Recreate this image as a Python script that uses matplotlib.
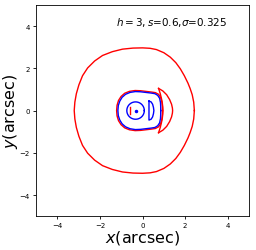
import numpy as np
import matplotlib.pyplot as plt

# upper halves of the curves (x, y), mirrored about y=0 when drawn
caustic_x = [2.43, 2.40, 2.33, 2.23, 2.13, 1.96, 1.77, 1.56, 1.30, 1.00, 0.65, 0.35, 0.0,
             -0.45, -0.94, -1.42, -1.88, -2.25, -2.58, -2.82, -2.99, -3.11, -3.18, -3.21]
caustic_y = [0.0, 0.40, 0.75, 1.05, 1.30, 1.65, 1.98, 2.27, 2.53, 2.74, 2.89, 2.95, 2.97,
             2.96, 2.91, 2.79, 2.61, 2.35, 2.02, 1.65, 1.22, 0.80, 0.40, 0.0]

crit_x = [0.93, 0.93, 0.91, 0.85, 0.75, 0.60, 0.40, 0.15, -0.10, -0.35, -0.62, -0.84, -1.01, -1.13, -1.20, -1.22]
crit_y = [0.0, 0.20, 0.40, 0.62, 0.77, 0.85, 0.88, 0.91, 0.94, 0.95, 0.91, 0.82, 0.67, 0.48, 0.25, 0.0]

img_x = [0.85, 0.85, 0.84, 0.80, 0.71, 0.58, 0.40, 0.15, -0.10, -0.34, -0.59, -0.80, -0.96, -1.07, -1.14, -1.16]
img_y = [0.0, 0.19, 0.38, 0.58, 0.72, 0.80, 0.83, 0.86, 0.89, 0.90, 0.86, 0.77, 0.63, 0.45, 0.24, 0.0]

cres_out_x = [0.75, 0.95, 1.13, 1.27, 1.36, 1.40, 1.41]
cres_out_y = [1.05, 0.93, 0.75, 0.52, 0.30, 0.12, 0.0]
cres_in_x = [0.75, 0.83, 0.89, 0.93, 0.95, 0.96]
cres_in_y = [1.05, 0.80, 0.55, 0.32, 0.14, 0.0]

d_x = [0.30, 0.40, 0.47, 0.51, 0.53]
d_y = [0.45, 0.41, 0.30, 0.15, 0.0]

circ_c, circ_r = -0.33, 0.41
mark_x, mark_y = -0.58, [-0.17, 0.17]


def closed(x, y):
    x = np.array(x)
    y = np.array(y)
    return np.r_[x, x[::-1][1:]], np.r_[y, -y[::-1][1:]]


fig = plt.figure(figsize=(2.56, 2.51), dpi=100)
ax = fig.add_axes([0.141, 0.135, 0.832, 0.841])
lw = 1.0

ax.plot(*closed(caustic_x, caustic_y), color='red', lw=lw)
ax.plot(*closed(crit_x, crit_y), color='red', lw=lw)
ax.plot(*closed(cres_out_x, cres_out_y), color='red', lw=lw)
ax.plot(*closed(cres_in_x, cres_in_y), color='red', lw=lw)
ax.plot([mark_x, mark_x], mark_y, color='red', lw=lw)

ax.plot(*closed(img_x, img_y), color='blue', lw=lw)
dx, dy = closed(d_x, d_y)
ax.plot(np.r_[dx, dx[0]], np.r_[dy, dy[0]], color='blue', lw=lw)
t = np.linspace(0, 2 * np.pi, 100)
ax.plot(circ_c + circ_r * np.cos(t), circ_r * np.sin(t), color='blue', lw=lw)
ax.plot([circ_c], [0], 'o', color='blue', ms=1.5)

ax.text(-1.23, 4.2, r'$h=3,s$=0.6,$\sigma$=0.325', fontsize=7.5, va='center')

ax.set_xlim(-5, 5)
ax.set_ylim(-5, 5)
ax.set_xticks([-4, -2, 0, 2, 4])
ax.set_yticks([-4, -2, 0, 2, 4])
ax.tick_params(labelsize=5, length=2.5, width=0.6, pad=2)
for s in ax.spines.values():
    s.set_linewidth(0.6)
ax.set_xlabel(r'$x$(arcsec)', fontsize=11.5, labelpad=0)
ax.set_ylabel(r'$y$(arcsec)', fontsize=11.5, labelpad=0)

fig.savefig('out.png', dpi=100)
